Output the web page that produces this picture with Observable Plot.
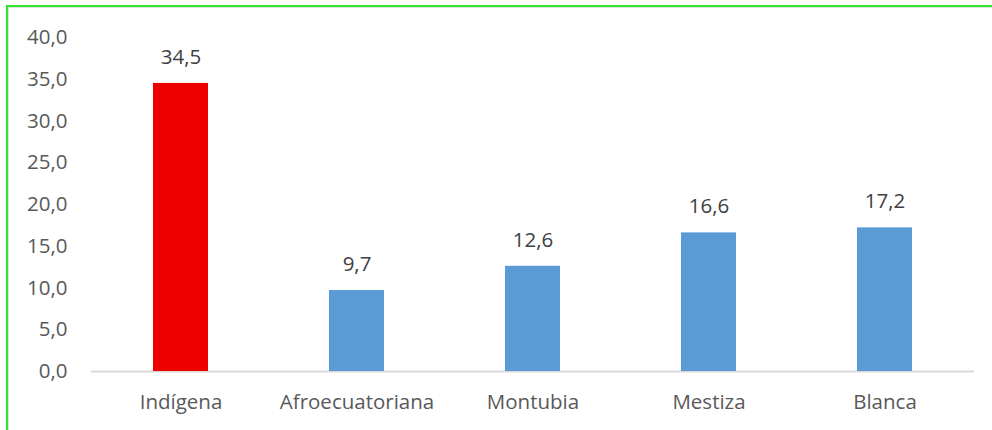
<!DOCTYPE html>
<html><head><meta charset="utf-8">
<script src="https://cdn.jsdelivr.net/npm/d3@7"></script>
<script src="https://cdn.jsdelivr.net/npm/@observablehq/plot@0.6"></script>
<style>
body{margin:0;background:#fff;}
#wrap{position:relative;width:992px;height:430px;overflow:hidden;}
#frame{position:absolute;left:6px;top:5px;width:1000px;height:440px;border-top:2px solid #2ee62e;border-left:2px solid #2ee62e;box-shadow:inset 1px 1px 1px #ddd;}
#chart{position:absolute;left:0;top:0;}
</style></head>
<body><div id="wrap"><div id="frame"></div><div id="chart"></div></div>
<script>
const categories = ["Indígena","Afroecuatoriana","Montubia","Mestiza","Blanca"];
const values = [34.5, 9.7, 12.6, 16.6, 17.2];
const yTicks = [0,5,10,15,20,25,30,35,40];
const barColors = ["#ee0000","#5b9bd5","#5b9bd5","#5b9bd5","#5b9bd5"];

const data = categories.map((c,i)=>({cat:c, v:values[i], color:barColors[i]}));
const fmt = v => v.toFixed(1).replace(".", ",");

const plot = Plot.plot({
  width: 992, height: 430,
  marginLeft: 91, marginRight: 18, marginTop: 37, marginBottom: 59,
  style: {fontFamily: "Open Sans", fontSize: "20.5px", color: "#595959", background: "transparent"},
  x: {domain: categories, paddingInner: 0.69, paddingOuter: 0.345, label: null, tickSize: 0, tickPadding: 23},
  y: {domain: [0,40], ticks: yTicks, tickFormat: fmt, label: null, tickSize: 0, tickPadding: 24},
  marks: [
    Plot.ruleY([0], {stroke: "#d9d9d9", strokeWidth: 2}),
    Plot.barY(data, {x: "cat", y: "v", fill: "color"}),
    Plot.text(data, {x: "cat", y: "v", text: d => fmt(d.v), dy: -26, fill: "#404040", fontSize: 20.5})
  ]
});
document.getElementById("chart").appendChild(plot);
</script></body></html>
